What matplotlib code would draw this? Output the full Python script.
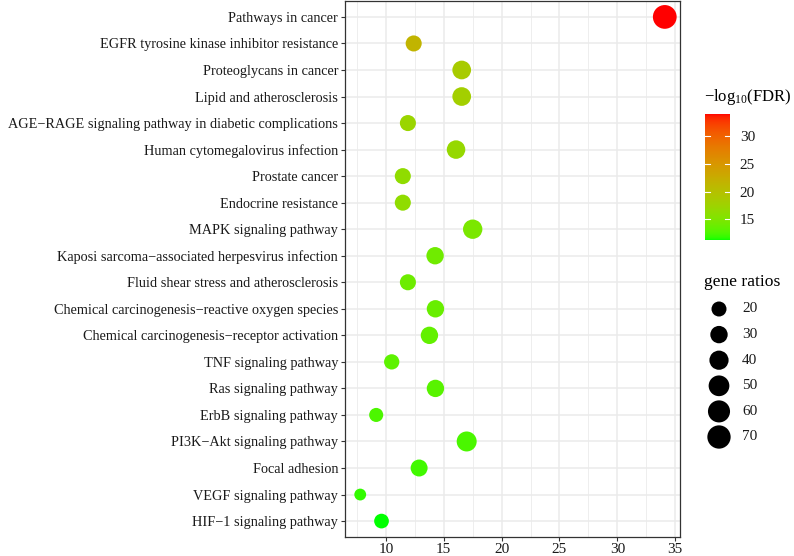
import numpy as np
import matplotlib
matplotlib.use("Agg")
import matplotlib.pyplot as plt
from matplotlib.colors import ListedColormap, Normalize
from matplotlib.ticker import MultipleLocator

plt.rcParams['font.family'] = ['Liberation Serif', 'DejaVu Serif']
plt.rcParams['mathtext.fontset'] = 'custom'
plt.rcParams['mathtext.rm'] = 'Liberation Serif'
plt.rcParams['mathtext.it'] = 'Liberation Serif:italic'

# pathways, top to bottom
pathways = [
    'Pathways in cancer',
    'EGFR tyrosine kinase inhibitor resistance',
    'Proteoglycans in cancer',
    'Lipid and atherosclerosis',
    'AGE\u2212RAGE signaling pathway in diabetic complications',
    'Human cytomegalovirus infection',
    'Prostate cancer',
    'Endocrine resistance',
    'MAPK signaling pathway',
    'Kaposi sarcoma\u2212associated herpesvirus infection',
    'Fluid shear stress and atherosclerosis',
    'Chemical carcinogenesis\u2212reactive oxygen species',
    'Chemical carcinogenesis\u2212receptor activation',
    'TNF signaling pathway',
    'Ras signaling pathway',
    'ErbB signaling pathway',
    'PI3K\u2212Akt signaling pathway',
    'Focal adhesion',
    'VEGF signaling pathway',
    'HIF\u22121 signaling pathway',
]
x_vals = [34.1, 12.4, 16.55, 16.55, 11.9, 16.06, 11.46, 11.46, 17.5, 14.25,
          11.9, 14.28, 13.76, 10.5, 14.28, 9.16, 16.98, 12.87, 7.78, 9.62]
gene_ratios = [74, 24, 37, 37, 24, 36, 24, 24, 41, 30,
               24, 30, 30, 21, 30, 17, 45, 28, 12, 19]
neg_log_fdr = [34.0, 21.5, 18.6, 18.1, 17.2, 16.8, 16.3, 16.3, 14.8, 14.2,
               14.0, 13.7, 13.5, 13.2, 13.0, 12.6, 12.5, 12.2, 11.9, 11.3]
size_breaks = [20, 30, 40, 50, 60, 70]
color_ticks = [15, 20, 25, 30]


# green -> red gradient interpolated in Lab space (like ggplot2)
def srgb_to_lab(rgb):
    rgb = np.asarray(rgb, float)
    lin = np.where(rgb <= 0.04045, rgb / 12.92, ((rgb + 0.055) / 1.055) ** 2.4)
    m = np.array([[0.4124, 0.3576, 0.1805],
                  [0.2126, 0.7152, 0.0722],
                  [0.0193, 0.1192, 0.9505]])
    xyz = m @ lin / np.array([0.95047, 1.0, 1.08883])
    f = np.where(xyz > 0.008856, np.cbrt(xyz), 7.787 * xyz + 16 / 116)
    return np.array([116 * f[1] - 16, 500 * (f[0] - f[1]), 200 * (f[1] - f[2])])


def lab_to_srgb(lab):
    L, a, b = lab
    fy = (L + 16) / 116
    f = np.array([fy + a / 500, fy, fy - b / 200])
    xyz = np.where(f > 0.2069, f ** 3, (f - 16 / 116) / 7.787) * np.array([0.95047, 1.0, 1.08883])
    minv = np.array([[3.2406, -1.5372, -0.4986],
                     [-0.9689, 1.8758, 0.0415],
                     [0.0557, -0.2040, 1.0570]])
    lin = np.clip(minv @ xyz, 0, 1)
    rgb = np.where(lin <= 0.0031308, 12.92 * lin, 1.055 * lin ** (1 / 2.4) - 0.055)
    return np.clip(rgb, 0, 1)


lab_lo = srgb_to_lab([0, 1, 0])
lab_hi = srgb_to_lab([1, 0, 0])
cmap = ListedColormap([lab_to_srgb(lab_lo + t * (lab_hi - lab_lo)) for t in np.linspace(0, 1, 256)])
norm = Normalize(vmin=min(neg_log_fdr), vmax=max(neg_log_fdr))


def marker_area(v):
    d_px = 9.28 + 1.81 * np.sqrt(np.maximum(np.asarray(v, float) - 10, 0))
    return (d_px * 72 / 100) ** 2


fig = plt.figure(figsize=(7.94, 5.56), dpi=100)
ax = fig.add_axes([345 / 794, 19 / 556, 335 / 794, 536 / 556])

n = len(pathways)
ypos = np.arange(n)[::-1]
ax.scatter(x_vals, ypos, s=marker_area(gene_ratios), c=neg_log_fdr, cmap=cmap, norm=norm,
           linewidths=0, zorder=3)

ax.margins(x=0.05)
ax.set_ylim(-0.6, n - 0.4)
ax.set_yticks(ypos)
ax.set_yticklabels(pathways, fontsize=10.3)
ax.xaxis.set_major_locator(MultipleLocator(5))
ax.xaxis.set_minor_locator(MultipleLocator(2.5))
ax.grid(which='major', color='#ebebeb', linewidth=1.1, zorder=0)
ax.grid(which='minor', axis='x', color='#ebebeb', linewidth=0.6, zorder=0)
ax.set_axisbelow(True)
for sp in ax.spines.values():
    sp.set_color('#333333')
    sp.set_linewidth(0.9)
ax.tick_params(which='major', length=3, width=0.8, color='#333333',
               labelcolor='#1a1a1a', pad=2)
ax.tick_params(axis='x', labelsize=11, pad=1)
ax.tick_params(which='minor', length=0)

# colour bar
cax = fig.add_axes([705 / 794, 1 - 240 / 556, 25 / 794, 126 / 556])
cb = fig.colorbar(plt.cm.ScalarMappable(norm=norm, cmap=cmap), cax=cax)
cb.outline.set_visible(False)
cb.set_ticks(color_ticks)
cax.tick_params(length=0, labelsize=11, pad=7, labelcolor='#1a1a1a')
for t in color_ticks:
    cax.plot([0, 0.2], [t, t], color='white', lw=0.8, transform=cax.get_yaxis_transform())
    cax.plot([0.8, 1], [t, t], color='white', lw=0.8, transform=cax.get_yaxis_transform())
fig.text(704 / 794, 1 - 97 / 556, r'$\mathrm{-log}_{10}$(FDR)', fontsize=12, va='center', ha='left')

# size legend
fig.text(704 / 794, 1 - 282 / 556, 'gene ratios', fontsize=12.6, va='center', ha='left')
lax = fig.add_axes([700 / 794, 1 - 450 / 556, 90 / 794, 155 / 556])
lax.set_xlim(0, 90)
lax.set_ylim(450, 295)
lax.axis('off')
key_y = 309 + np.arange(len(size_breaks)) * 25.6
lax.scatter([19] * len(size_breaks), key_y, s=marker_area(size_breaks), color='black', linewidths=0)
for yy, b in zip(key_y, size_breaks):
    lax.text(42, yy, str(b), fontsize=11, va='center', ha='left', color='#1a1a1a')

fig.savefig('out.png', dpi=100)
